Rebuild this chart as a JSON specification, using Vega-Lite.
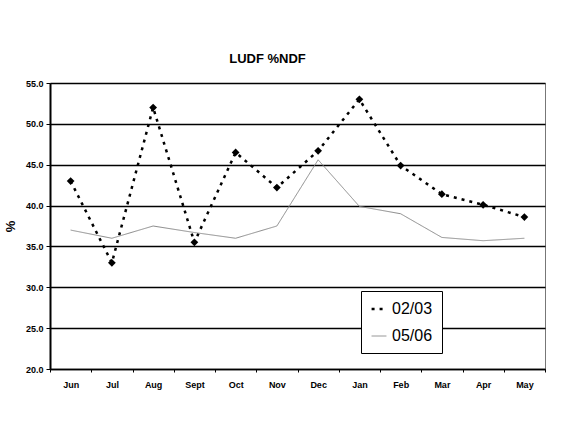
{
  "$schema": "https://vega.github.io/schema/vega-lite/v6.json",
  "width": 495,
  "height": 286,
  "padding": {"left": 4, "top": 53, "right": 10, "bottom": 10},
  "background": "white",
  "title": {"text": "LUDF %NDF", "font": "Liberation Sans", "fontSize": 13, "fontWeight": "bold", "color": "black", "offset": 13, "dx": -30},
  "config": {
    "view": {"stroke": "#777777", "strokeWidth": 1},
    "font": "Liberation Sans"
  },
  "data": {"values": [
    {"month": "Jun", "series": "02/03", "value": 43.0},
    {"month": "Jul", "series": "02/03", "value": 33.0},
    {"month": "Aug", "series": "02/03", "value": 52.0},
    {"month": "Sept", "series": "02/03", "value": 35.5},
    {"month": "Oct", "series": "02/03", "value": 46.5},
    {"month": "Nov", "series": "02/03", "value": 42.2},
    {"month": "Dec", "series": "02/03", "value": 46.7},
    {"month": "Jan", "series": "02/03", "value": 53.0},
    {"month": "Feb", "series": "02/03", "value": 44.9},
    {"month": "Mar", "series": "02/03", "value": 41.4},
    {"month": "Apr", "series": "02/03", "value": 40.1},
    {"month": "May", "series": "02/03", "value": 38.6},
    {"month": "Jun", "series": "05/06", "value": 37.0},
    {"month": "Jul", "series": "05/06", "value": 36.0},
    {"month": "Aug", "series": "05/06", "value": 37.5},
    {"month": "Sept", "series": "05/06", "value": 36.7},
    {"month": "Oct", "series": "05/06", "value": 36.0},
    {"month": "Nov", "series": "05/06", "value": 37.5},
    {"month": "Dec", "series": "05/06", "value": 45.6},
    {"month": "Jan", "series": "05/06", "value": 39.9},
    {"month": "Feb", "series": "05/06", "value": 39.0},
    {"month": "Mar", "series": "05/06", "value": 36.1},
    {"month": "Apr", "series": "05/06", "value": 35.7},
    {"month": "May", "series": "05/06", "value": 36.0}
  ]},
  "encoding": {
    "x": {
      "field": "month", "type": "ordinal",
      "sort": ["Jun", "Jul", "Aug", "Sept", "Oct", "Nov", "Dec", "Jan", "Feb", "Mar", "Apr", "May"],
      "scale": {"type": "band", "paddingInner": 0, "paddingOuter": 0},
      "axis": {
        "title": null, "labelAngle": 0, "labelFontSize": 9, "labelFontWeight": "bold", "labelColor": "black",
        "labelPadding": 8, "domainColor": "black", "domainWidth": 1.5, "tickColor": "black", "tickSize": 3,
        "tickBand": "extent", "grid": false
      }
    },
    "y": {
      "field": "value", "type": "quantitative",
      "scale": {"domain": [20, 55], "nice": false, "zero": false},
      "axis": {
        "title": "%", "titleFontSize": 13, "titleFontWeight": "bold", "titleColor": "black", "titlePadding": 8,
        "values": [20, 25, 30, 35, 40, 45, 50, 55], "format": ".1f",
        "labelFontSize": 9, "labelFontWeight": "bold", "labelColor": "black", "labelPadding": 3,
        "domainColor": "black", "domainWidth": 2, "tickColor": "black", "tickSize": 4,
        "grid": true, "gridColor": "black", "gridWidth": 1.4
      }
    }
  },
  "layer": [
    {
      "mark": {"type": "line"},
      "encoding": {
        "color": {"field": "series", "type": "nominal", "scale": {"domain": ["02/03", "05/06"], "range": ["black", "#8a8a8a"]},
          "legend": {
            "title": null, "orient": "none", "legendX": 311, "legendY": 208, "direction": "vertical",
            "strokeColor": "black", "fillColor": "white", "padding": 9,
            "labelFontSize": 16, "labelColor": "black", "labelFont": "Liberation Sans", "labelOffset": 4,
            "symbolType": "stroke", "symbolSize": 220, "rowPadding": 11
          }},
        "strokeDash": {"field": "series", "type": "nominal", "scale": {"domain": ["02/03", "05/06"], "range": [[3, 5], [1, 0]]}},
        "strokeWidth": {"field": "series", "type": "nominal", "scale": {"domain": ["02/03", "05/06"], "range": [2.5, 1]}}
      }
    },
    {
      "transform": [{"filter": "datum.series == '02/03'"}],
      "mark": {"type": "point", "shape": "diamond", "filled": true, "size": 60, "color": "black", "opacity": 1}
    }
  ]
}
